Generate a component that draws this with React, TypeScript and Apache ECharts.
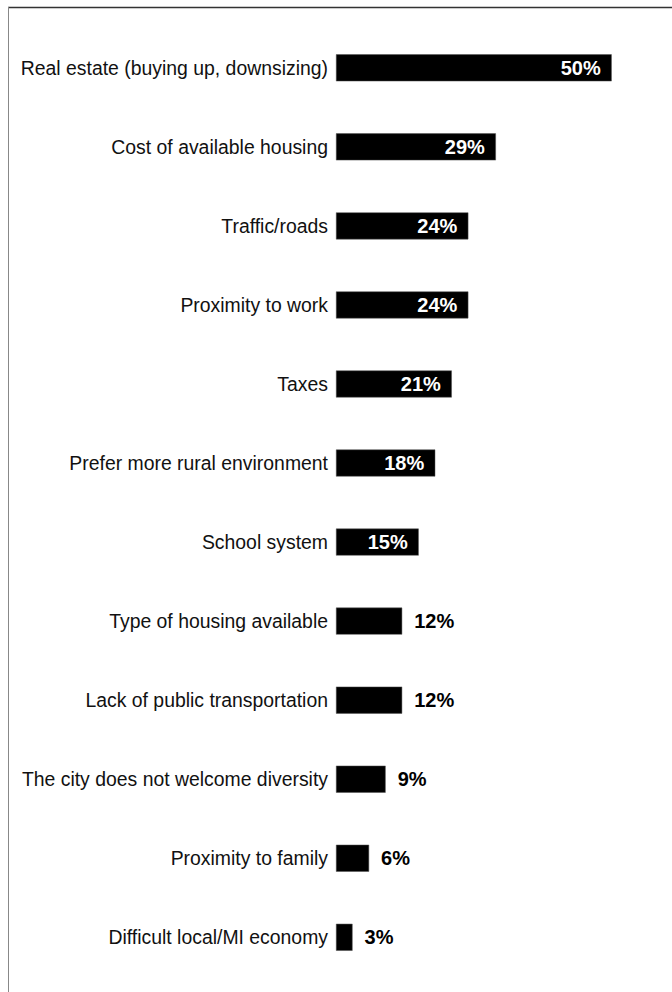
import React, { useEffect, useRef } from "react";
import * as echarts from "echarts";

const categories = [
  "Real estate (buying up, downsizing)",
  "Cost of available housing",
  "Traffic/roads",
  "Proximity to work",
  "Taxes",
  "Prefer more rural environment",
  "School system",
  "Type of housing available",
  "Lack of public transportation",
  "The city does not welcome diversity",
  "Proximity to family",
  "Difficult local/MI economy",
];
const values = [50, 29, 24, 24, 21, 18, 15, 12, 12, 9, 6, 3];
const insideThreshold = 15;

export default function App() {
  const ref = useRef<HTMLDivElement>(null);
  useEffect(() => {
    document.body.style.margin = "0";
    const chart = echarts.init(ref.current!, null, { renderer: "svg" });
    const font = "Arial, 'Liberation Sans', Helvetica, sans-serif";
    chart.setOption({
      animation: false,
      backgroundColor: "#ffffff",
      grid: { left: 336, right: 60.3, top: 28.3, bottom: 15.2, containLabel: false },
      xAxis: {
        type: "value",
        min: 0,
        max: 50,
        show: false,
        splitLine: { show: false },
      },
      yAxis: {
        type: "category",
        inverse: true,
        data: categories,
        axisLine: { show: false },
        axisTick: { show: false },
        axisLabel: {
          margin: 8,
          color: "#111",
          fontSize: 19.4,
          fontFamily: font,
        },
      },
      graphic: [
        {
          type: "line",
          shape: { x1: 8, y1: 7.5, x2: 672, y2: 7.5 },
          style: { stroke: "#333", lineWidth: 1.5 },
        },
        {
          type: "line",
          shape: { x1: 8.5, y1: 7, x2: 8.5, y2: 992 },
          style: { stroke: "#888", lineWidth: 1 },
        },
      ],
      series: [
        {
          type: "bar",
          barWidth: 27,
          data: values.map((v) => ({
            value: v,
            label:
              v >= insideThreshold
                ? { position: "insideRight", distance: 11, color: "#fff" }
                : { position: "right", distance: 12, color: "#000" },
          })),
          itemStyle: { color: "#000", borderColor: "#555", borderWidth: 0.5 },
          label: {
            show: true,
            fontSize: 20,
            fontWeight: "bold",
            fontFamily: font,
            formatter: (p: any) => p.value + "%",
          },
        },
      ],
    });
    return () => chart.dispose();
  }, []);
  return <div ref={ref} style={{ width: 672, height: 992 }} />;
}
